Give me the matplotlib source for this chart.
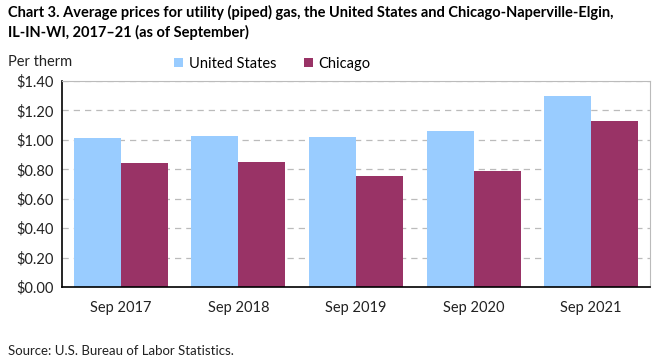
import matplotlib.pyplot as plt
import numpy as np
from matplotlib.ticker import FuncFormatter

plt.rcParams['font.family'] = ['Lato', 'DejaVu Sans']

categories = ["Sep 2017", "Sep 2018", "Sep 2019", "Sep 2020", "Sep 2021"]
us_prices = [1.013, 1.026, 1.020, 1.060, 1.298]
chicago_prices = [0.843, 0.852, 0.755, 0.789, 1.128]

blue = "#99ccff"
maroon = "#993366"

fig = plt.figure(figsize=(6.62, 3.62), dpi=100)
ax = fig.add_axes([62 / 662, 1 - 287 / 362, 588 / 662, 206 / 362])

x = np.arange(len(categories))
w = 0.4
ax.bar(x - w / 2, us_prices, w, color=blue, label="United States", zorder=2)
ax.bar(x + w / 2, chicago_prices, w, color=maroon, label="Chicago", zorder=2)

ax.set_xlim(-0.5, len(categories) - 0.5)
ax.set_ylim(0, 1.4)
ax.set_yticks(np.arange(0, 1.41, 0.2))
ax.yaxis.set_major_formatter(FuncFormatter(lambda v, p: f"${v:.2f}"))
ax.set_xticks(x)
ax.set_xticklabels(categories)
ax.tick_params(axis="both", length=0, labelsize=10.5, colors="#222222")
ax.tick_params(axis="x", pad=10)
ax.tick_params(axis="y", pad=6)

ax.grid(axis="y", color="#bbbbbb", linestyle=(0, (5, 4)), linewidth=0.9, zorder=0)
for side in ["top", "right"]:
    ax.spines[side].set_color("#bbbbbb")
for side in ["left", "bottom"]:
    ax.spines[side].set_color("black")
    ax.spines[side].set_linewidth(1.2)

title_lines = ["Chart 3. Average prices for utility (piped) gas, the United States and Chicago-Naperville-Elgin,",
               "IL-IN-WI, 2017\u201321 (as of September)"]
fig.text(0.012, 1 - 12 / 362, title_lines[0], fontsize=10.5, fontweight="bold", va="center", ha="left")
fig.text(0.012, 1 - 32 / 362, title_lines[1], fontsize=10.5, fontweight="bold", va="center", ha="left")
fig.text(0.012, 1 - 62 / 362, "Per therm", fontsize=10.5, va="center", ha="left", color="#222222")
fig.text(0.012, 1 - 351 / 362, "Source: U.S. Bureau of Labor Statistics.", fontsize=9.5, va="center", ha="left", color="#222222")

ax.legend(loc="center left", bbox_to_anchor=(112 / 588, 1 + 17 / 206), ncol=2, frameon=False,
          fontsize=10.5, handlelength=0.6, handleheight=0.6, handletextpad=0.4, columnspacing=1.9,
          borderaxespad=0, borderpad=0)

plt.savefig("out.png", dpi=100)
